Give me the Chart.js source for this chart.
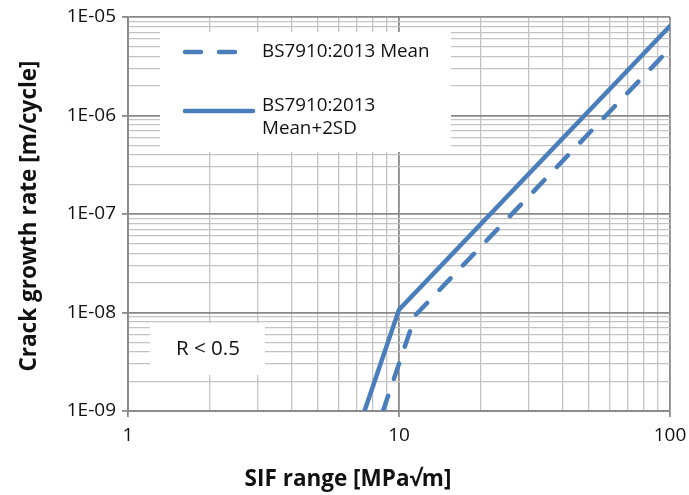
<!DOCTYPE html>
<html>
<head>
<meta charset="utf-8">
<script src="https://cdn.jsdelivr.net/npm/chart.js@4"></script>
<style>
  body { margin: 0; background: #fff; }
  #wrap { width: 689px; height: 495px; }
</style>
</head>
<body>
<div id="wrap"><canvas id="myChart" width="689" height="495"></canvas></div>
<script>
// values (SIF range in MPa√m, da/dN in m/cycle)
var meanK = [8.73, 11.5, 100];
var meanRate = [1e-9, 9.4e-9, 4.8e-6];
var upperK = [7.46, 10, 100];
var upperRate = [1e-9, 1.07e-8, 8.1e-6];

var seriesNames = ['BS7910:2013 Mean', 'BS7910:2013 Mean+2SD'];
var xDecades = [1, 10, 100];
var yDecades = [1e-9, 1e-8, 1e-7, 1e-6, 1e-5];
var yLabels = ['1E-09', '1E-08', '1E-07', '1E-06', '1E-05'];
var xTitle = 'SIF range [MPa√m]';
var yTitle = 'Crack growth rate [m/cycle]';
var noteText = 'R < 0.5';

var blue = '#4a7ebb';
var font = '"Open Sans", "Noto Sans", sans-serif';

function toPoints(xs, ys) {
  var pts = [];
  for (var i = 0; i < xs.length; i++) pts.push({x: xs[i], y: ys[i]});
  return pts;
}

// 1..9 in every decade, for the minor grid
function logTicks(decades) {
  var t = [];
  for (var i = 0; i < decades.length; i++) {
    t.push(decades[i]);
    if (i < decades.length - 1) {
      for (var k = 2; k <= 9; k++) t.push(decades[i] * k);
    }
  }
  return t;
}

function isDecade(v) {
  var l = Math.log10(v);
  return Math.abs(l - Math.round(l)) < 1e-6;
}

function gridColor(ctx) {
  if (!ctx.tick) return '#c3c3c3';
  return isDecade(ctx.tick.value) ? '#898989' : '#c3c3c3';
}
function gridWidth(ctx) {
  if (!ctx.tick) return 1.3;
  return isDecade(ctx.tick.value) ? 1.8 : 1.3;
}
function tickColor(ctx) {
  if (!ctx.tick) return 'rgba(0,0,0,0)';
  return isDecade(ctx.tick.value) ? '#898989' : 'rgba(0,0,0,0)';
}

// legend box, note box and axis titles
var decorations = {
  id: 'decorations',
  beforeDatasetsDraw: function(chart) {
    var c = chart.ctx;
    c.save();
    c.fillStyle = '#fff';
    c.fillRect(160, 32, 291, 120);
    c.fillRect(150, 323, 115, 52);

    c.strokeStyle = blue;
    c.lineWidth = 4.5;
    c.lineCap = 'round';
    c.setLineDash([16, 18]);
    c.beginPath(); c.moveTo(185, 52); c.lineTo(240, 52); c.stroke();
    c.setLineDash([]);
    c.beginPath(); c.moveTo(185, 111); c.lineTo(253, 111); c.stroke();

    c.fillStyle = '#111';
    c.font = '18.8px ' + font;
    c.textBaseline = 'middle';
    c.textAlign = 'left';
    c.fillText(seriesNames[0], 262, 52);
    c.fillText('BS7910:2013', 262, 106);
    c.fillText('Mean+2SD', 262, 129);

    c.font = '20.5px ' + font;
    c.textAlign = 'center';
    c.fillText(noteText, 208, 349);
    c.restore();
  },
  afterDraw: function(chart) {
    var c = chart.ctx;
    c.save();
    c.fillStyle = '#111';
    c.font = 'bold 22.5px ' + font;
    c.textAlign = 'center';
    c.textBaseline = 'middle';
    c.fillText(xTitle, 348, 480);
    c.translate(30, 216);
    c.rotate(-Math.PI / 2);
    c.fillText(yTitle, 0, 0);
    c.restore();
  }
};

var ctx = document.getElementById('myChart').getContext('2d');
var myChart = new Chart(ctx, {
  type: 'line',
  data: {
    datasets: [{
      label: seriesNames[0],
      data: toPoints(meanK, meanRate),
      borderColor: blue,
      borderWidth: 4.5,
      borderDash: [16, 18],
      borderCapStyle: 'round',
      pointRadius: 0,
      tension: 0
    }, {
      label: seriesNames[1],
      data: toPoints(upperK, upperRate),
      borderColor: blue,
      borderWidth: 4.5,
      borderCapStyle: 'round',
      pointRadius: 0,
      tension: 0
    }]
  },
  options: {
    responsive: false,
    animation: false,
    layout: { padding: { left: 0, right: 19, top: 17, bottom: 0 } },
    plugins: { legend: { display: false }, tooltip: { enabled: false } },
    scales: {
      x: {
        type: 'logarithmic',
        min: 1, max: 100,
        afterBuildTicks: function(scale) {
          scale.ticks = logTicks(xDecades).map(function(v) { return {value: v}; });
        },
        afterFit: function(scale) {
          scale.height = 84;
          scale.paddingLeft = 0;
          scale.paddingRight = 0;
        },
        ticks: {
          autoSkip: false, maxRotation: 0, padding: 7,
          color: '#111', font: { family: font, size: 19 },
          callback: function(v) { return isDecade(v) ? String(Math.round(v)) : ''; }
        },
        grid: { color: gridColor, lineWidth: gridWidth, tickLength: 6, tickColor: tickColor },
        border: { color: '#898989', width: 1.8 }
      },
      y: {
        type: 'logarithmic',
        min: 1e-9, max: 1e-5,
        afterBuildTicks: function(scale) {
          scale.ticks = logTicks(yDecades).map(function(v) { return {value: v}; });
        },
        afterFit: function(scale) {
          scale.width = 128;
          scale.paddingTop = 0;
          scale.paddingBottom = 0;
        },
        ticks: {
          autoSkip: false, padding: 6,
          color: '#111', font: { family: font, size: 19 },
          callback: function(v) {
            var i = yDecades.findIndex(function(d) { return Math.abs(d - v) / d < 1e-6; });
            return i >= 0 ? yLabels[i] : '';
          }
        },
        grid: { color: gridColor, lineWidth: gridWidth, tickLength: 6, tickColor: tickColor },
        border: { color: '#898989', width: 1.8 }
      }
    }
  },
  plugins: [decorations]
});
</script>
</body>
</html>
